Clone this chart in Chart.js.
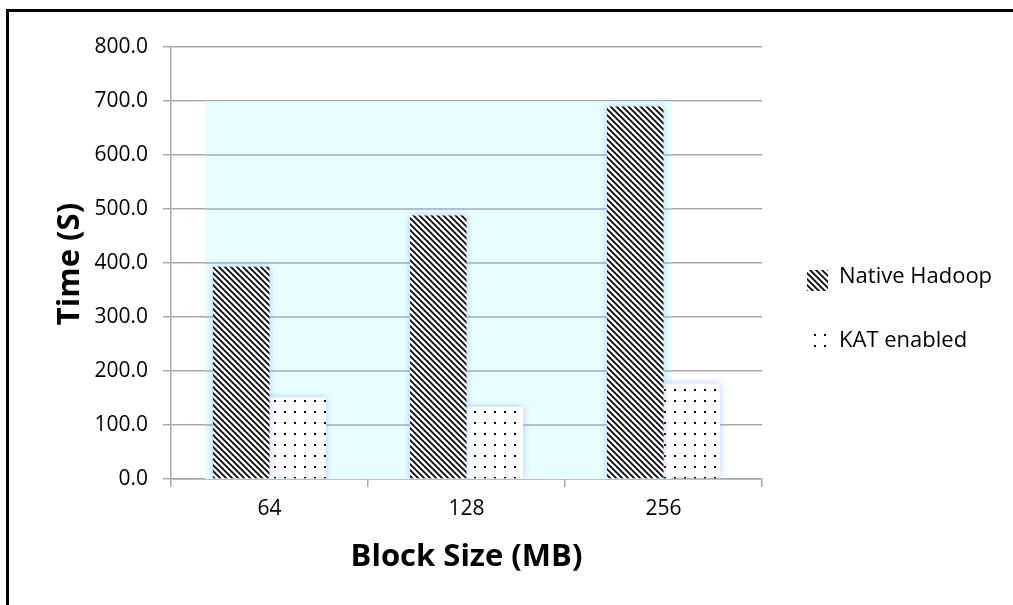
<!DOCTYPE html>
<html>
<head>
<meta charset="utf-8">
<script src="https://cdn.jsdelivr.net/npm/chart.js@4.4.1/dist/chart.umd.min.js"></script>
<style>
  html, body { margin: 0; padding: 0; background: #fff; }
  #wrap { position: relative; width: 1013px; height: 605px; }
</style>
</head>
<body>
<div id="wrap"><canvas id="c" width="1013" height="605"></canvas></div>
<script>
// Job time by HDFS block size
const categories = ['64', '128', '256'];
const nativeHadoop = [393, 488, 690];
const katEnabled = [151, 134, 177];
const seriesNames = ['Native Hadoop', 'KAT enabled'];
const yRange = [0, 800];
const yStep = 100;
const xTitle = 'Block Size (MB)';
const yTitle = 'Time (S)';

const FONT = '"Open Sans", "DejaVu Sans", sans-serif';
const canvas = document.getElementById('c');
const ctx0 = canvas.getContext('2d');

// Fill patterns: diagonal hatch and dot grid, on white
function makeHatch(bg) {
  const t = document.createElement('canvas');
  t.width = 6; t.height = 6;
  const g = t.getContext('2d');
  if (bg) { g.fillStyle = '#fff'; g.fillRect(0, 0, 6, 6); }
  g.strokeStyle = '#000';
  g.lineWidth = 1.7;
  g.beginPath();
  g.moveTo(-1, -1); g.lineTo(7, 7);
  g.moveTo(-1, 5); g.lineTo(1, 7);
  g.moveTo(5, -1); g.lineTo(7, 1);
  g.stroke();
  return ctx0.createPattern(t, 'repeat');
}
function makeDots(bg) {
  const t = document.createElement('canvas');
  t.width = 10; t.height = 11;
  const g = t.getContext('2d');
  if (bg) { g.fillStyle = '#fff'; g.fillRect(0, 0, 10, 11); }
  g.fillStyle = '#000';
  g.fillRect(4, 4, 2, 2);
  return ctx0.createPattern(t, 'repeat');
}
const hatchFill = makeHatch(true);
const dotFill = makeDots(true);
const hatchKey = makeHatch(false);
const dotKey = makeDots(false);

const decor = {
  id: 'decor',
  beforeDatasetsDraw(chart) {
    const ctx = chart.ctx;
    const y = chart.scales.y;
    const bars = chart.getDatasetMeta(0).data;
    const first = bars[0], last = bars[bars.length - 1];
    const left = first.x - first.width / 2 - 8;
    const right = last.x + last.width / 2 + 8;
    const top = Math.min(...bars.map(b => b.y)) - 5;
    const bottom = y.getPixelForValue(0);
    ctx.save();
    ctx.fillStyle = '#e8fefe';
    ctx.fillRect(left, top, right - left, bottom - top);
    ctx.strokeStyle = '#9eabc8';
    ctx.lineWidth = 1.5;
    y.ticks.forEach(t => {
      const py = y.getPixelForValue(t.value);
      if (py > top && py < bottom - 1) {
        ctx.beginPath(); ctx.moveTo(left, py); ctx.lineTo(right, py); ctx.stroke();
      }
    });
    ctx.restore();
    // soft glow around bars
    ctx.save();
    ctx.shadowColor = 'rgba(120,160,255,0.55)';
    ctx.shadowBlur = 7;
  },
  afterDatasetsDraw(chart) {
    chart.ctx.restore();
  },
  afterDraw(chart) {
    const ctx = chart.ctx;
    const a = chart.chartArea;
    ctx.save();
    ctx.fillStyle = '#000';
    // axis titles
    ctx.font = 'bold 31px ' + FONT;
    ctx.textAlign = 'center';
    ctx.textBaseline = 'alphabetic';
    ctx.fillText(xTitle, (a.left + a.right) / 2, 566);
    ctx.save();
    ctx.translate(79, 264);
    ctx.rotate(-Math.PI / 2);
    ctx.fillText(yTitle, 0, 0);
    ctx.restore();
    // legend
    ctx.font = '22px ' + FONT;
    ctx.textAlign = 'left';
    ctx.fillStyle = hatchKey;
    ctx.fillRect(807, 270, 21, 21);
    ctx.fillStyle = dotKey;
    ctx.fillRect(807, 326, 21, 26);
    ctx.fillStyle = '#000';
    ctx.fillText(seriesNames[0], 839, 283);
    ctx.fillText(seriesNames[1], 839, 347);
    // outer frame
    ctx.fillRect(6, 9, 3, 600);
    ctx.fillRect(6, 9, 1010, 3);
    ctx.restore();
  }
};

new Chart(canvas, {
  type: 'bar',
  data: {
    labels: categories,
    datasets: [
      { label: seriesNames[0], data: nativeHadoop, backgroundColor: hatchFill, borderWidth: 0 },
      { label: seriesNames[1], data: katEnabled, backgroundColor: dotFill, borderWidth: 0 }
    ]
  },
  options: {
    responsive: false,
    devicePixelRatio: 1,
    animation: false,
    layout: { padding: { left: 0, top: 47, right: 251, bottom: 0 } },
    datasets: { bar: { categoryPercentage: 0.574, barPercentage: 1.0 } },
    plugins: { legend: { display: false }, tooltip: { enabled: false } },
    scales: {
      x: {
        offset: true,
        grid: { display: true, drawOnChartArea: false, color: '#aaaaaa', lineWidth: 1.5, tickLength: 8 },
        border: { color: '#aaaaaa', width: 1.5 },
        ticks: { color: '#000', font: { family: FONT, size: 21 }, padding: 9 },
        afterFit(s) { s.height = 126; }
      },
      y: {
        min: yRange[0],
        max: yRange[1],
        grid: { color: '#aaaaaa', lineWidth: 1.5, tickLength: 8 },
        border: { color: '#aaaaaa', width: 1.5 },
        ticks: {
          stepSize: yStep,
          color: '#000',
          font: { family: FONT, size: 21 },
          padding: 15,
          callback: v => Number(v).toFixed(1)
        },
        afterFit(s) { s.width = 171; }
      }
    }
  },
  plugins: [decor]
});
</script>
</body>
</html>
